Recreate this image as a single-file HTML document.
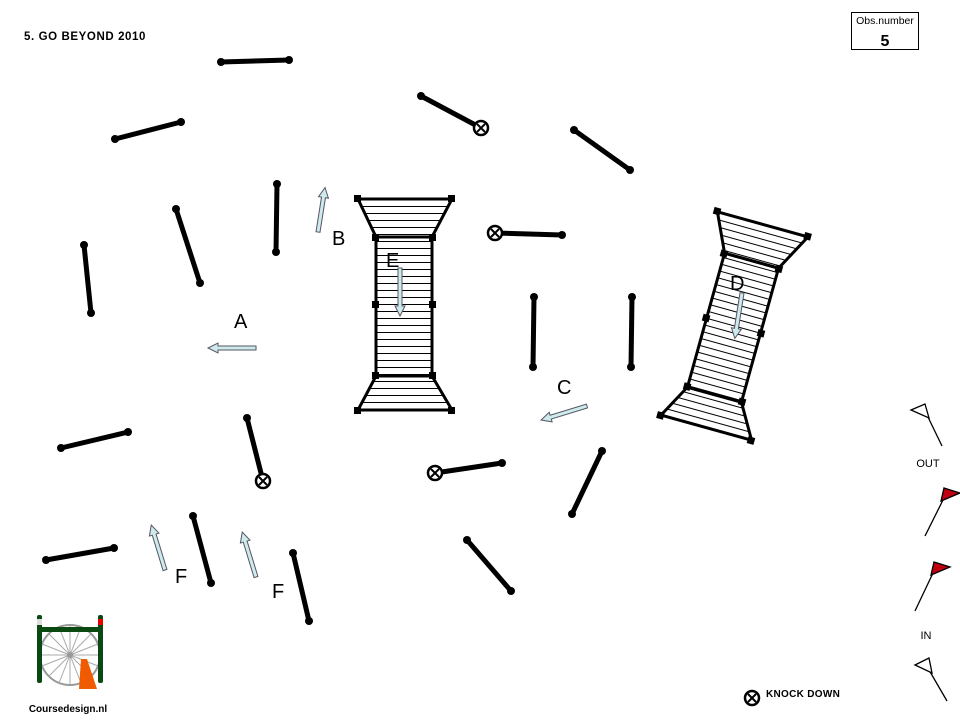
<!DOCTYPE html>
<html><head><meta charset="utf-8"><style>body{margin:0;background:#fff}svg{display:block}text{font-family:"Liberation Sans",sans-serif}</style></head>
<body>
<svg width="960" height="720" viewBox="0 0 960 720" xmlns="http://www.w3.org/2000/svg">
<defs>
<pattern id="h" patternUnits="userSpaceOnUse" width="10" height="7"><line x1="0" y1="3.5" x2="10" y2="3.5" stroke="#000" stroke-width="1"/></pattern>
<g id="bridge">
<path d="M358,199 L452,199 L432,237 L376,237 Z" fill="url(#h)" stroke="#000" stroke-width="3"/>
<rect x="376" y="237" width="56" height="139" fill="url(#h)" stroke="#000" stroke-width="3"/>
<path d="M376,376 L432,376 L452,410 L358,410 Z" fill="url(#h)" stroke="#000" stroke-width="3"/>
<g fill="#000">
<rect x="354" y="195" width="7" height="7"/><rect x="448" y="195" width="7" height="7"/>
<rect x="372" y="234" width="7" height="7"/><rect x="429" y="234" width="7" height="7"/>
<rect x="372" y="301" width="7" height="7"/><rect x="429" y="301" width="7" height="7"/>
<rect x="372" y="372" width="7" height="7"/><rect x="429" y="372" width="7" height="7"/>
<rect x="354" y="407" width="7" height="7"/><rect x="448" y="407" width="7" height="7"/>
</g>
</g>
<g id="kd"><circle r="7" fill="#fff" stroke="#000" stroke-width="2.5"/><path d="M-4,-4L4,4M4,-4L-4,4" stroke="#000" stroke-width="2"/></g>
</defs>
<text x="24" y="40" font-size="11.5" font-weight="bold" letter-spacing="0.6">5. GO BEYOND 2010</text>
<rect x="851.5" y="12.5" width="67" height="37" fill="#fff" stroke="#000"/>
<text x="885" y="24" font-size="10.5" text-anchor="middle">Obs.number</text>
<text x="885" y="46" font-size="16" font-weight="bold" text-anchor="middle">5</text>

<g stroke="#000" stroke-width="5" stroke-linecap="round">
<line x1="221" y1="62" x2="289" y2="60"/>
<line x1="115" y1="139" x2="181" y2="122"/>
<line x1="421" y1="96" x2="481" y2="128"/>
<line x1="574" y1="130" x2="630" y2="170"/>
<line x1="277" y1="184" x2="276" y2="252"/>
<line x1="176" y1="209" x2="200" y2="283"/>
<line x1="84" y1="245" x2="91" y2="313"/>
<line x1="495" y1="233" x2="562" y2="235"/>
<line x1="534" y1="297" x2="533" y2="367"/>
<line x1="632" y1="297" x2="631" y2="367"/>
<line x1="61" y1="448" x2="128" y2="432"/>
<line x1="247" y1="418" x2="263" y2="481"/>
<line x1="435" y1="473" x2="502" y2="463"/>
<line x1="602" y1="451" x2="572" y2="514"/>
<line x1="193" y1="516" x2="211" y2="583"/>
<line x1="46" y1="560" x2="114" y2="548"/>
<line x1="293" y1="553" x2="309" y2="621"/>
<line x1="467" y1="540" x2="511" y2="591"/>
</g>
<g fill="#000">
<circle cx="221" cy="62" r="4"/><circle cx="289" cy="60" r="4"/>
<circle cx="115" cy="139" r="4"/><circle cx="181" cy="122" r="4"/>
<circle cx="421" cy="96" r="4"/>
<circle cx="574" cy="130" r="4"/><circle cx="630" cy="170" r="4"/>
<circle cx="277" cy="184" r="4"/><circle cx="276" cy="252" r="4"/>
<circle cx="176" cy="209" r="4"/><circle cx="200" cy="283" r="4"/>
<circle cx="84" cy="245" r="4"/><circle cx="91" cy="313" r="4"/>
<circle cx="562" cy="235" r="4"/>
<circle cx="534" cy="297" r="4"/><circle cx="533" cy="367" r="4"/>
<circle cx="632" cy="297" r="4"/><circle cx="631" cy="367" r="4"/>
<circle cx="61" cy="448" r="4"/><circle cx="128" cy="432" r="4"/>
<circle cx="247" cy="418" r="4"/>
<circle cx="502" cy="463" r="4"/>
<circle cx="602" cy="451" r="4"/><circle cx="572" cy="514" r="4"/>
<circle cx="193" cy="516" r="4"/><circle cx="211" cy="583" r="4"/>
<circle cx="46" cy="560" r="4"/><circle cx="114" cy="548" r="4"/>
<circle cx="293" cy="553" r="4"/><circle cx="309" cy="621" r="4"/>
<circle cx="467" cy="540" r="4"/><circle cx="511" cy="591" r="4"/>
</g>
<use href="#kd" x="481" y="128"/>
<use href="#kd" x="495" y="233"/>
<use href="#kd" x="263" y="481"/>
<use href="#kd" x="435" y="473"/>

<use href="#bridge"/>
<g transform="translate(734.5,326) rotate(15.5) translate(-405,-304.5)"><use href="#bridge"/></g>

<g fill="#cfeaea" stroke="#556" stroke-width="1">
<g transform="translate(256,348) rotate(180)"><path d="M0,-2 L38,-2 L38,-5 L48,0 L38,5 L38,2 L0,2 Z"/></g>
<g transform="translate(318,232) rotate(-81)"><path d="M0,-2 L35,-2 L35,-5 L45,0 L35,5 L35,2 L0,2 Z"/></g>
<g transform="translate(400,268) rotate(90)"><path d="M0,-2 L38,-2 L38,-5 L48,0 L38,5 L38,2 L0,2 Z"/></g>
<g transform="translate(742,293) rotate(99)"><path d="M0,-2 L36,-2 L36,-5 L46,0 L36,5 L36,2 L0,2 Z"/></g>
<g transform="translate(587,406) rotate(163)"><path d="M0,-2 L38,-2 L38,-5 L48,0 L38,5 L38,2 L0,2 Z"/></g>
<g transform="translate(165,570) rotate(-107)"><path d="M0,-2 L37,-2 L37,-5 L47,0 L37,5 L37,2 L0,2 Z"/></g>
<g transform="translate(256,577) rotate(-107)"><path d="M0,-2 L37,-2 L37,-5 L47,0 L37,5 L37,2 L0,2 Z"/></g>
</g>
<g font-size="20">
<text x="234" y="328">A</text>
<text x="332" y="245">B</text>
<text x="386" y="267">E</text>
<text x="730" y="290">D</text>
<text x="557" y="394">C</text>
<text x="175" y="583">F</text>
<text x="272" y="598">F</text>
</g>

<g stroke="#000" stroke-width="1.3">
<line x1="927" y1="415" x2="942" y2="446"/>
<path d="M911,410 L925,404 L929,418 Z" fill="#fff"/>
<line x1="943" y1="500" x2="925" y2="536"/>
<path d="M944,488 L960,493 L941,501 Z" fill="#c00010"/>
<line x1="933" y1="573" x2="915" y2="611"/>
<path d="M934,562 L950,567 L931,575 Z" fill="#c00010"/>
<line x1="929" y1="670" x2="947" y2="701"/>
<path d="M915,665 L929,658 L932,673 Z" fill="#fff"/>
</g>
<text x="928" y="467" font-size="11" text-anchor="middle">OUT</text>
<text x="926" y="639" font-size="11" text-anchor="middle">IN</text>

<use href="#kd" x="752" y="698"/>
<text x="766" y="697" font-size="10" font-weight="bold" letter-spacing="0.3">KNOCK DOWN</text>

<g>
<circle cx="70" cy="655" r="30" fill="none" stroke="#999" stroke-width="2"/>
<g stroke="#aaa" stroke-width="1">
<line x1="40" y1="655" x2="100" y2="655"/><line x1="70" y1="625" x2="70" y2="685"/>
<line x1="49" y1="634" x2="91" y2="676"/><line x1="91" y1="634" x2="49" y2="676"/>
<line x1="42" y1="644" x2="98" y2="666"/><line x1="42" y1="666" x2="98" y2="644"/>
<line x1="59" y1="627" x2="81" y2="683"/><line x1="81" y1="627" x2="59" y2="683"/>
</g>
<circle cx="70" cy="655" r="3" fill="#999"/>
<rect x="37" y="615" width="5" height="68" rx="2" fill="#0a4a12"/>
<rect x="98" y="615" width="5" height="68" rx="2" fill="#0a4a12"/>
<rect x="37" y="627" width="66" height="5" fill="#0a4a12"/>
<rect x="37" y="619" width="5" height="6" fill="#ddd"/>
<rect x="98" y="619" width="5" height="6" fill="#e00"/>
<path d="M81,659 L87,659 L97,689 L79,689 Z" fill="#f05a00"/>
<text x="68" y="712" font-size="10" font-weight="bold" text-anchor="middle">Coursedesign.nl</text>
</g>
</svg>
</body></html>
